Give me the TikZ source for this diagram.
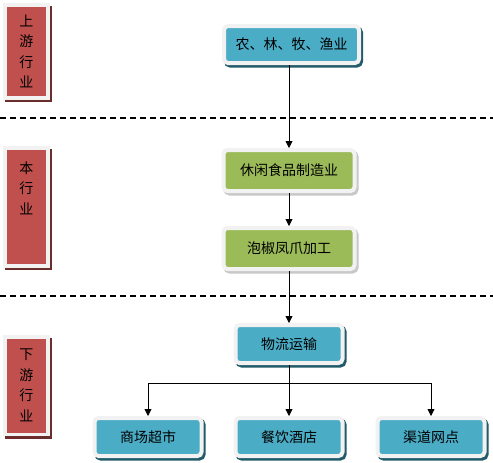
\documentclass[tikz,border=0pt]{standalone}
\usepackage{fontspec}
\setmainfont{Noto Sans CJK SC}
\usetikzlibrary{arrows.meta, positioning}
\definecolor{chainTeal}{HTML}{4BACC6}
\definecolor{chainTealDark}{HTML}{215A68}
\definecolor{chainGreen}{HTML}{9BBB59}
\definecolor{chainGreenDark}{HTML}{C8C8C8}
\definecolor{chainRed}{HTML}{C0504D}
\definecolor{chainRedDark}{HTML}{6B2D2C}
\definecolor{rimGray}{HTML}{F2F2F2}

\begin{document}
\begin{tikzpicture}[x=1pt, y=-1pt,
    box/.style 2 args={rectangle, rounded corners=4pt, draw=rimGray, line width=4pt,
                fill=#1, inner sep=0pt,
                preaction={draw=#2, fill=#2, transform canvas={xshift=2pt, yshift=-2.5pt}},
                font=\fontsize{14pt}{17pt}\selectfont},
    bar/.style={rectangle, draw=rimGray, line width=3.5pt, fill=chainRed,
                minimum width=43pt, inner sep=0pt, align=center,
                preaction={draw=chainRedDark, fill=chainRedDark, transform canvas={xshift=2pt, yshift=-2.5pt}},
                font=\fontsize{14pt}{20.5pt}\selectfont},
    flow/.style={-{Triangle[width=7pt, length=7pt]}, line width=0.8pt},
    sep/.style={dash pattern=on 6pt off 4pt, line width=1.2pt},
  ]
    \useasboundingbox (0,0) rectangle (493,463);

    % stage labels
    \node[bar, minimum height=93pt] (upBar) at (26.5,51.5) {上\\游\\行\\业};
    \node[bar, minimum height=118pt] (coreBar) at (26.5,207) {本\\行\\业\\[17.5pt]\mbox{}};
    \node[bar, minimum height=97.5pt] (downBar) at (26.5,385.5) {下\\游\\行\\业};

    % separators
    \draw[sep] (0,118) -- (493,118);
    \draw[sep] (0,296) -- (493,296);

    % chain
    \node[box={chainTeal}{chainTealDark}, minimum width=135pt, minimum height=37pt]
      (farm) at (291.5,44.5) {农、林、牧、渔业};
    \node[box={chainGreen}{chainGreenDark}, minimum width=131pt, minimum height=41pt]
      (make) at (289,170.5) {休闲食品制造业};
    \node[box={chainGreen}{chainGreenDark}, minimum width=131pt, minimum height=41pt]
      (pickle) at (289,248.5) {泡椒凤爪加工};
    \node[box={chainTeal}{chainTealDark}, minimum width=107pt, minimum height=38pt]
      (logistics) at (289,344) {物流运输};
    \node[box={chainTeal}{chainTealDark}, minimum width=107pt, minimum height=38pt]
      (mall) at (148,437) {商场超市};
    \node[box={chainTeal}{chainTealDark}, minimum width=107pt, minimum height=38pt]
      (hotel) at (289,437) {餐饮酒店};
    \node[box={chainTeal}{chainTealDark}, minimum width=107pt, minimum height=38pt]
      (shop) at (431,437) {渠道网点};

    \draw[flow] (farm.south -| make.north) -- (make.north);
    \draw[flow] (make) -- (pickle);
    \draw[flow] (pickle) -- (logistics);

    \coordinate (fork) at (289,383);
    \draw[line width=0.8pt] (logistics.south) -- (fork);
    \draw[flow] (fork) -| (mall.north);
    \draw[flow] (fork) -- (hotel.north);
    \draw[flow] (fork) -| (shop.north);
  \end{tikzpicture}
\end{document}
